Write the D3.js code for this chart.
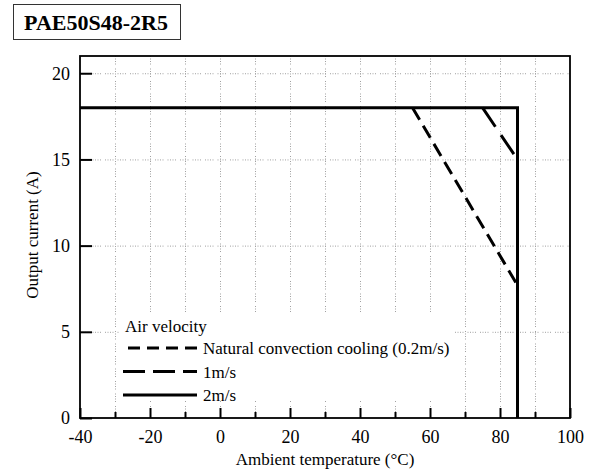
<!DOCTYPE html>
<html>
<head>
<meta charset="utf-8" />
<title>PAE50S48-2R5 derating</title>
<script src="https://cdn.jsdelivr.net/npm/d3@7"></script>
<style>
  body { margin: 0; padding: 0; background: #fff; }
  svg { font-family: "Liberation Serif", "Times New Roman", serif; }
  .grid line { stroke: #a0a0a0; stroke-width: 1; stroke-dasharray: 1,1.5,1,1.5,1,1.5,1,4; }
  .axis path { display: none; }
  .axis line { stroke: #000; stroke-width: 2; }
  .axis text { font-size: 18px; fill: #000; font-family: "Liberation Serif", serif; }
</style>
</head>
<body>
<svg id="chart" width="595" height="476"></svg>
<script>
// chart values
var title = "PAE50S48-2R5";
var xMajorTicks = [-40, -20, 0, 20, 40, 60, 80, 100];
var xMinorTicks = [-30, -10, 10, 30, 50, 70, 90];
var yTicks = [0, 5, 10, 15, 20];
var xGrid = [-30, -20, -10, 0, 10, 20, 30, 40, 50, 60, 70, 80, 90];
var yGrid = [5, 10, 15, 20];

// derating curves (temperature, current)
var natural = [[55, 18], [85, 7.7]];
var oneMs = [[75, 18], [85, 15]];
var twoMs = [[-40, 18], [85, 18], [85, 0]];

var legendItems = [
  { label: "Natural convection cooling (0.2m/s)", dash: "12,7" },
  { label: "1m/s", dash: "22,8" },
  { label: "2m/s", dash: null }
];

var svg = d3.select("#chart");
var margin = { left: 80, top: 56, right: 25, bottom: 58 };
var width = 595 - margin.left - margin.right;
var height = 476 - margin.top - margin.bottom;

var x = d3.scaleLinear().domain([-40, 100]).range([0, width]);
var y = d3.scaleLinear().domain([0, 21]).range([height, 0]);

// title box
svg.append("rect")
    .attr("x", 13.5).attr("y", 4.5)
    .attr("width", 167).attr("height", 35)
    .attr("fill", "#fff").attr("stroke", "#333").attr("stroke-width", 1);
svg.append("text")
    .attr("x", 96).attr("y", 30)
    .attr("text-anchor", "middle")
    .style("font-size", "22px")
    .style("font-weight", "bold")
    .text(title);

var g = svg.append("g")
    .attr("transform", "translate(" + margin.left + "," + margin.top + ")");

// dotted grid
var grid = g.append("g").attr("class", "grid");
grid.selectAll(".gx").data(xGrid).enter().append("line")
    .attr("x1", function(d) { return x(d) + 0.5; })
    .attr("x2", function(d) { return x(d) + 0.5; })
    .attr("y1", 0).attr("y2", height);
grid.selectAll(".gy").data(yGrid).enter().append("line")
    .attr("y1", function(d) { return y(d) + 0.5; })
    .attr("y2", function(d) { return y(d) + 0.5; })
    .attr("x1", 0).attr("x2", width);

// axes, ticks drawn inward; plain hyphen for negatives
var plain = function(d) { return String(d); };
g.append("g")
    .attr("class", "axis")
    .attr("transform", "translate(0," + height + ")")
    .call(d3.axisBottom(x).tickValues(xMajorTicks).tickSize(-10).tickPadding(12).tickFormat(plain));
g.append("g")
    .attr("class", "axis")
    .attr("transform", "translate(0," + height + ")")
    .call(d3.axisBottom(x).tickValues(xMinorTicks).tickSize(-6).tickFormat(""));
g.append("g")
    .attr("class", "axis")
    .call(d3.axisLeft(y).tickValues(yTicks).tickSize(-12).tickPadding(10).tickFormat(plain));

// legend background hides the grid
var lg = g.append("g").attr("transform", "translate(40,256)");
lg.append("rect")
    .attr("x", 0).attr("y", 0)
    .attr("width", 335).attr("height", 88)
    .attr("fill", "#fff");
lg.append("text")
    .attr("x", 5).attr("y", 20)
    .style("font-size", "17px")
    .text("Air velocity");
legendItems.forEach(function(item, i) {
  var ly = 36 + i * 23.5;
  lg.append("line")
      .attr("x1", i === 0 ? 8 : 3).attr("x2", 77)
      .attr("y1", ly).attr("y2", ly)
      .attr("stroke", "#000").attr("stroke-width", 3)
      .attr("stroke-dasharray", item.dash);
  lg.append("text")
      .attr("x", 83).attr("y", ly + 6)
      .style("font-size", "17px")
      .text(item.label);
});

// curves
var line = d3.line()
    .x(function(d) { return x(d[0]); })
    .y(function(d) { return y(d[1]); });

g.append("path").datum(twoMs)
    .attr("d", line)
    .attr("fill", "none").attr("stroke", "#000").attr("stroke-width", 3);
g.append("path").datum(natural)
    .attr("d", line)
    .attr("fill", "none").attr("stroke", "#000").attr("stroke-width", 3)
    .attr("stroke-dasharray", "14,7");
g.append("path").datum(oneMs)
    .attr("d", line)
    .attr("fill", "none").attr("stroke", "#000").attr("stroke-width", 3)
    .attr("stroke-dasharray", "23,10");

// frame
g.append("rect")
    .attr("x", 0).attr("y", 0)
    .attr("width", width).attr("height", height)
    .attr("fill", "none").attr("stroke", "#000").attr("stroke-width", 1.8);

// axis titles
svg.append("text")
    .attr("x", margin.left + width / 2).attr("y", 465)
    .attr("text-anchor", "middle")
    .style("font-size", "17px")
    .text("Ambient temperature (°C)");
svg.append("text")
    .attr("transform", "translate(38," + (margin.top + height / 2 - 2) + ") rotate(-90)")
    .attr("text-anchor", "middle")
    .style("font-size", "17px")
    .text("Output current (A)");
</script>
</body>
</html>
